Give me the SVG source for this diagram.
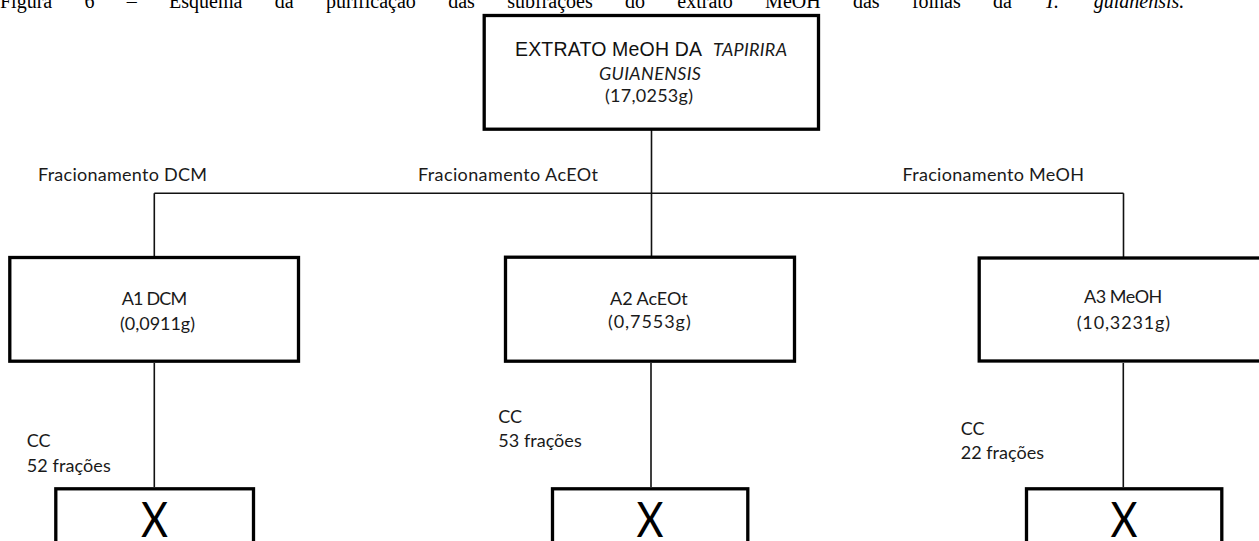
<svg xmlns="http://www.w3.org/2000/svg" width="1259" height="541" viewBox="0 0 1259 541">
<style>
 .box{fill:#fff;stroke:#000;stroke-width:3.3}
 .conn{stroke:#111;stroke-width:1.6;fill:none}
 .lbl{font-family:Lato,"Open Sans","DejaVu Sans",sans-serif;font-size:18px;fill:#1a1a1a}
 .it{font-style:italic}
 .ar{font-family:"Liberation Sans",Arial,sans-serif;font-size:19.5px;fill:#111}
 .cap{font-family:"Liberation Serif","Times New Roman",serif;font-size:20px;fill:#000}
 .xl{font-family:Lato,"Open Sans","DejaVu Sans",sans-serif;font-size:49px;fill:#000;text-anchor:middle}
</style>
<rect width="1259" height="541" fill="#fff"/>
<text class="cap" y="8"><tspan x="0">Figura</tspan><tspan x="84.5">6</tspan><tspan x="126.8">–</tspan><tspan x="169.1">Esquema</tspan><tspan x="274.7">da</tspan><tspan x="325.9">purificação</tspan><tspan x="448.2">das</tspan><tspan x="507.2">subfrações</tspan><tspan x="625">do</tspan><tspan x="677.3">extrato</tspan><tspan x="765.1">MeOH</tspan><tspan x="852.9">das</tspan><tspan x="911.9">folhas</tspan><tspan x="993.1">da</tspan><tspan x="1044.3" font-style="italic">T.</tspan><tspan x="1093.8" font-style="italic">guianensis.</tspan></text>
<g id="connectors">
 <path class="conn" d="M651.5 130 V256 M154.3 193.3 H1123.5 M154.3 193.3 V256 M1123.5 193.3 V257 M154.3 363 V487 M651 363 V487 M1123.3 363 V487"/>
 <text class="lbl" x="38" y="180.5" textLength="169">Fracionamento DCM</text>
 <text class="lbl" x="418" y="180.5" textLength="180">Fracionamento AcEOt</text>
 <text class="lbl" x="902.5" y="180.5" textLength="181.5">Fracionamento MeOH</text>
 <text class="lbl" x="26.7" y="447.3">CC</text>
 <text class="lbl" x="26.7" y="471.7" textLength="84">52 frações</text>
 <text class="lbl" x="498.3" y="422.7">CC</text>
 <text class="lbl" x="498.3" y="446.7" textLength="83.4">53 frações</text>
 <text class="lbl" x="960.7" y="435">CC</text>
 <text class="lbl" x="960.7" y="459.3" textLength="83.3">22 frações</text>
</g>
<g id="extrato">
 <rect class="box" x="484.2" y="15.5" width="334.3" height="113.7"/>
 <text class="ar" x="515" y="56" textLength="187">EXTRATO MeOH DA</text>
 <text class="lbl it" x="713" y="56" textLength="74">TAPIRIRA</text>
 <text class="lbl it" x="599" y="80" textLength="102">GUIANENSIS</text>
 <text class="lbl" x="605" y="102" textLength="88">(17,0253g)</text>
</g>
<g id="a1">
 <rect class="box" x="9.8" y="257.5" width="288.7" height="103.7"/>
 <text class="lbl" x="121.7" y="305" textLength="65.6">A1 DCM</text>
 <text class="lbl" x="120" y="329.5" textLength="75">(0,0911g)</text>
</g>
<g id="a2">
 <rect class="box" x="505.5" y="257.2" width="289" height="104"/>
 <text class="lbl" x="610" y="305" textLength="77.7">A2 AcEOt</text>
 <text class="lbl" x="608" y="328" textLength="82.7">(0,7553g)</text>
</g>
<g id="a3">
 <rect class="box" x="979.2" y="258" width="289" height="103"/>
 <text class="lbl" x="1084" y="303" textLength="78.3">A3 MeOH</text>
 <text class="lbl" x="1076.7" y="329" textLength="93.3">(10,3231g)</text>
</g>
<g id="x1">
 <rect class="box" x="55.8" y="488.8" width="197.7" height="100"/>
 <text class="xl" transform="translate(154.5 536.7) scale(0.85 1)">X</text>
</g>
<g id="x2">
 <rect class="box" x="552.5" y="488.8" width="195.3" height="100"/>
 <text class="xl" transform="translate(650 536.7) scale(0.85 1)">X</text>
</g>
<g id="x3">
 <rect class="box" x="1026.5" y="488.8" width="195.3" height="100"/>
 <text class="xl" transform="translate(1124 536.7) scale(0.85 1)">X</text>
</g>
</svg>
